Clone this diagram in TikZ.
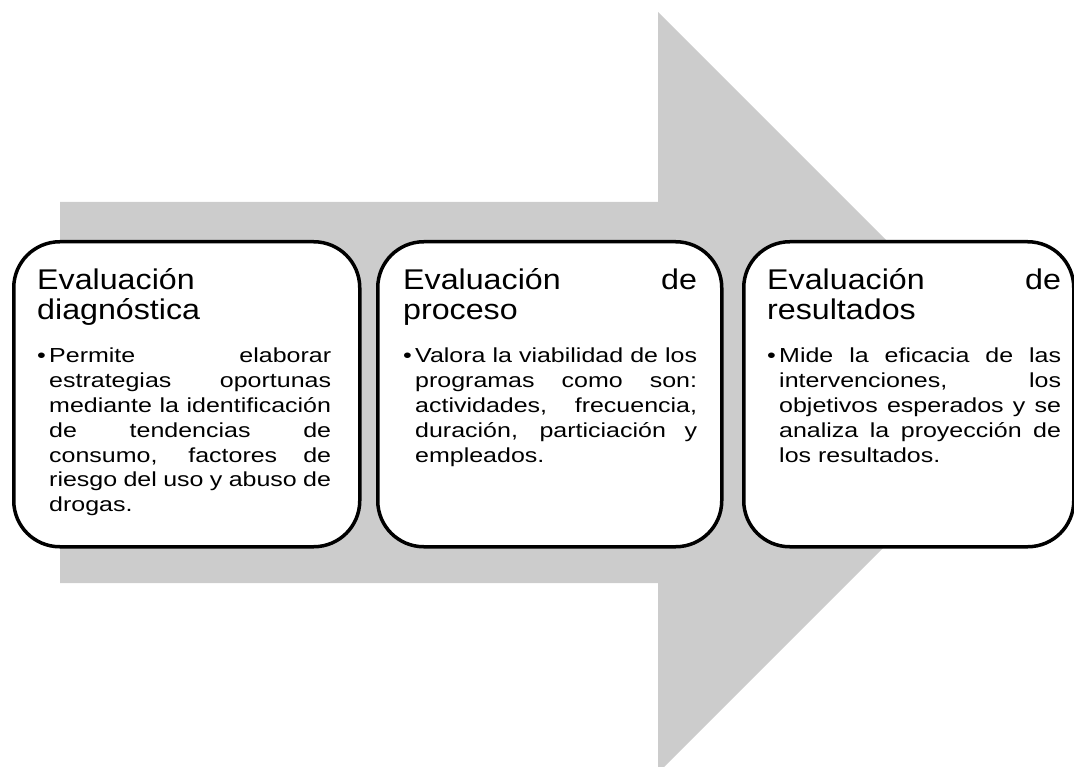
\documentclass[tikz,border=0pt]{standalone}
\usepackage{fontspec}
\setmainfont{Liberation Sans}
\usepackage{graphicx}
\definecolor{arrowgray}{RGB}{204,204,204}
\newcommand{\tjust}[1]{\noindent\scalebox{1.13}[1]{\makebox[260pt][s]{#1}}\par}
\newcommand{\tplain}[1]{\noindent\scalebox{1.13}[1]{#1}\par}
\newcommand{\bjust}[1]{\noindent\hspace*{12pt}\scalebox{1.231}[1]{\makebox[229pt][s]{#1}}\par}
\newcommand{\bplain}[1]{\noindent\hspace*{12pt}\scalebox{1.231}[1]{#1}\par}
\newcommand{\bfirst}[1]{\noindent\makebox[12pt][l]{\scalebox{1.231}[1]{•}}\scalebox{1.231}[1]{\makebox[229pt][s]{#1}}\par}
\newenvironment{boxtext}{\begin{minipage}[t]{294pt}\setlength{\parindent}{0pt}\fontsize{28.5pt}{30pt}\selectfont}{\end{minipage}}
\newcommand{\bodystart}{\fontsize{20.3pt}{24.8pt}\selectfont\vspace*{18.2pt}}
\tikzset{
  stagebox/.style={draw=black, line width=3.5pt, fill=white, rounded corners=46pt,
    anchor=north west, minimum height=305pt, inner sep=0pt},
  stagetext/.style={anchor=base west, inner sep=0pt, align=left},
}
\begin{document}
\begin{tikzpicture}[x=1pt,y=-1pt]
\useasboundingbox (0,0) rectangle (1074,767);
\clip (0,0) rectangle (1074,767);
% big arrow
\fill[arrowgray] (60,202) -- (658,202) -- (658,12) -- (1038.5,392.5) -- (658,773) -- (658,583) -- (60,583) -- cycle;
% boxes
\node[stagebox, minimum width=346pt] (b1) at (12,240) {};
\node[stagebox, minimum width=344pt] (b2) at (376,240) {};
\node[stagebox, minimum width=330pt] (b3) at (742,240) {};
% texts
\node[stagetext] (t1) at (37,290) {\begin{boxtext}
\tplain{Evaluación}
\tplain{diagnóstica}
\bodystart
\bfirst{Permite elaborar}
\bjust{estrategias oportunas}
\bjust{mediante la identificación}
\bjust{de tendencias de}
\bjust{consumo, factores de}
\bjust{riesgo del uso y abuso de}
\bplain{drogas.}
\end{boxtext}};
\node[stagetext] (t2) at (403,290) {\begin{boxtext}
\tjust{Evaluación de}
\tplain{proceso}
\bodystart
\bfirst{Valora la viabilidad de los}
\bjust{programas como son:}
\bjust{actividades, frecuencia,}
\bjust{duración, particiación y}
\bplain{empleados.}
\end{boxtext}};
\node[stagetext] (t3) at (767,290) {\begin{boxtext}
\tjust{Evaluación de}
\tplain{resultados}
\bodystart
\bfirst{Mide la eficacia de las}
\bjust{intervenciones, los}
\bjust{objetivos esperados y se}
\bjust{analiza la proyección de}
\bplain{los resultados.}
\end{boxtext}};
\end{tikzpicture}
\end{document}
